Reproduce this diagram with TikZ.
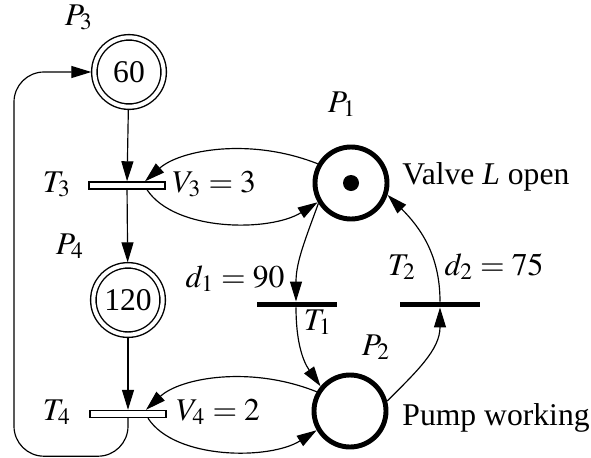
\documentclass[tikz,border=0pt]{standalone}
\usepackage{mathptmx}
\usepackage{fontspec}
\setmainfont{Liberation Serif}
\usetikzlibrary{arrows.meta,positioning,calc}

\tikzset{
  arc/.style={line width=0.5pt,-{Triangle[length=3mm,width=1.8mm]}},
  place/.style={circle,draw,line width=2.1pt,minimum size=1.08cm,inner sep=0pt},
  dplace/.style={circle,draw,line width=0.6pt,double,double distance=0.06cm,
                 minimum size=1.04cm,inner sep=0pt,outer sep=0.045cm},
  tbox/.style={rectangle,draw,line width=0.6pt,fill=white,minimum width=1.14cm,
               minimum height=0.105cm,inner sep=0pt},
  tbar/.style={rectangle,fill=black,minimum width=1.2cm,minimum height=0.075cm,inner sep=0pt},
  lbl/.style={inner sep=0pt,anchor=base}
}

\begin{document}
\begin{tikzpicture}[x=0.015cm,y=0.015cm,font=\fontsize{13.5}{16}\selectfont]
  \useasboundingbox (0,0) rectangle (591,457);

  % places
  \node[dplace] (P3) at (129,385) {60};
  \node[dplace] (P4) at (128,157) {120};
  \node[place] (P1) at (351,274) {};
  \node[place] (P2) at (350,46) {};
  \fill (P1) circle (8);

  % transitions
  \node[tbox] (T3) at (127,271.5) {};
  \node[tbox] (T4) at (128,43) {};
  \node[tbar] (T1) at (297,152.5) {};
  \node[tbar] (T2) at (440,152.5) {};

  % labels
  \node[lbl] (lP3) at (79,432) {$P_3$};
  \node[lbl] (lP4) at (70,203) {$P_4$};
  \node[lbl] (lP1) at (342,345) {$P_1$};
  \node[lbl] (lP2) at (376,102) {$P_2$};
  \node[lbl] (lT3) at (57,265) {$T_3$};
  \node[lbl] (lT4) at (57,37) {$T_4$};
  \node[lbl] (lT1) at (318,127) {$T_1$};
  \node[lbl] (lT2) at (402,182) {$T_2$};
  \node[lbl,anchor=base west] (lV3) at (172,265) {$V_3=3$};
  \node[lbl,anchor=base west] (lV4) at (176,37) {$V_4=2$};
  \node[lbl] (ld1) at (235,170) {$d_1=90$};
  \node[lbl] (ld2) at (494,182) {$d_2=75$};
  \node[lbl,anchor=base west] (lvalve) at (402,273) {Valve \textit{L} open};
  \node[lbl,anchor=base west] (lpump) at (402,32) {Pump working};

  % left column
  \draw[arc] (P3) -- (T3);
  \draw[arc] (T3) -- (P4);
  \draw[arc] (P4) -- (T4);
  \draw[arc,rounded corners=4.5mm] (T4.south) -- ++(0,-38) -| (14,200) |- (P3.west);

  % valve loop
  \draw[arc] (P1.150) .. controls (250,320) and (180,307) .. ([xshift=0.27cm]T3.north);
  \draw[arc] ([xshift=0.3cm]T3.south) .. controls (175,225) and (270,225) .. (P1.210);
  \draw[arc] (P2.150) .. controls (250,92) and (180,79) .. ([xshift=0.27cm]T4.north);
  \draw[arc] ([xshift=0.3cm]T4.south) .. controls (175,-3) and (270,-3) .. (P2.210);

  % pump cycle
  \draw[arc] (P1.212) to[out=250,in=90] ([xshift=-0.015cm]T1.north);
  \draw[arc] ([xshift=-0.015cm]T1.south) to[out=-90,in=125] (P2.140);
  \draw[arc] (P2.15) to[out=45,in=-90] (T2.south);
  \draw[arc] (T2.north) to[out=90,in=-45] (P1.-18);
\end{tikzpicture}
\end{document}
